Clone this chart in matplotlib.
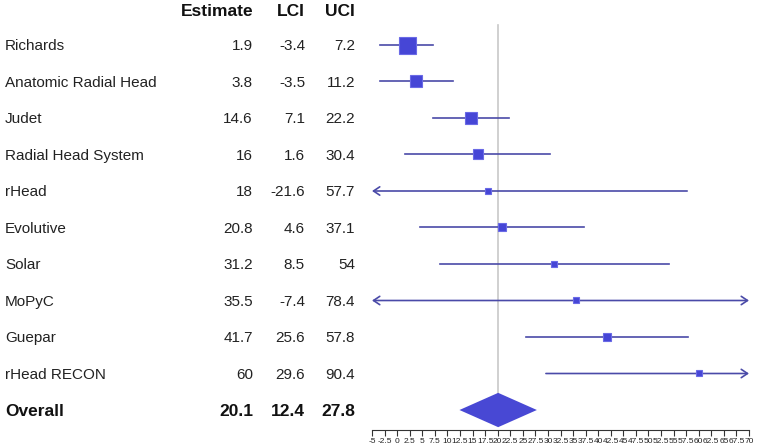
import matplotlib.pyplot as plt
import matplotlib.transforms as mtransforms
import numpy as np

plt.rcParams["font.family"] = ["Liberation Sans", "DejaVu Sans"]

studies = ["Richards", "Anatomic Radial Head", "Judet", "Radial Head System", "rHead",
           "Evolutive", "Solar", "MoPyC", "Guepar", "rHead RECON"]
estimate = [1.9, 3.8, 14.6, 16, 18, 20.8, 31.2, 35.5, 41.7, 60]
lci = [-3.4, -3.5, 7.1, 1.6, -21.6, 4.6, 8.5, -7.4, 25.6, 29.6]
uci = [7.2, 11.2, 22.2, 30.4, 57.7, 37.1, 54, 78.4, 57.8, 90.4]
# relative study weight
weights = [1.0, 0.70, 0.76, 0.53, 0.30, 0.45, 0.40, 0.30, 0.47, 0.35]

overall_label = "Overall"
overall = (20.1, 12.4, 27.8)
est_txt = ["1.9", "3.8", "14.6", "16", "18", "20.8", "31.2", "35.5", "41.7", "60"]
lci_txt = ["-3.4", "-3.5", "7.1", "1.6", "-21.6", "4.6", "8.5", "-7.4", "25.6", "29.6"]
uci_txt = ["7.2", "11.2", "22.2", "30.4", "57.7", "37.1", "54", "78.4", "57.8", "90.4"]
overall_txt = ["20.1", "12.4", "27.8"]
headers = ["Estimate", "LCI", "UCI"]
xticks = np.arange(-5, 70.1, 2.5)

W, H = 759, 448
xmin, xmax = -5, 70
top_px, step_px = 45, 36.5

fig = plt.figure(figsize=(W / 100, H / 100), dpi=100)
ax = fig.add_axes([372 / W, 0, (749 - 372) / W, 1])
ax.set_xlim(xmin, xmax)
ax.set_ylim((H - top_px) / step_px, -top_px / step_px)
ax.patch.set_alpha(0)

line_c = "#4a4aa8"
box_c = "#4646d6"
n = len(studies)
y_over = n

# reference line at the overall estimate
ax.plot([overall[0], overall[0]], [-0.55, y_over - 0.47], color="#c8c8c8", lw=1.2, zorder=1)

for i in range(n):
    lo, hi = max(lci[i], xmin), min(uci[i], xmax)
    left_cut, right_cut = lci[i] < xmin, uci[i] > xmax
    if left_cut and right_cut:
        style, a, b = "<->", (lo, i), (hi, i)
    elif left_cut:
        style, a, b = "->", (hi, i), (lo, i)
    elif right_cut:
        style, a, b = "->", (lo, i), (hi, i)
    else:
        style = None
    if style:
        ax.annotate("", xy=b, xytext=a, annotation_clip=False,
                    arrowprops=dict(arrowstyle=style + ",head_length=0.45,head_width=0.3",
                                    color=line_c, lw=1.2, shrinkA=0, shrinkB=0))
    else:
        ax.plot([lo, hi], [i, i], color=line_c, lw=1.2, zorder=2)
    ax.plot(estimate[i], i, marker="s", ms=17 * 0.72 * weights[i],
            mfc=box_c, mec="#6a6ae6", mew=0.8, zorder=3)

# overall diamond
e, l, u = overall
ax.fill([l, e, u, e], [y_over, y_over - 0.47, y_over, y_over + 0.47],
        color="#4848d4", lw=0, zorder=3)

# x axis
axis_y = (430 - top_px) / step_px
for s in ["top", "left", "right"]:
    ax.spines[s].set_visible(False)
ax.spines["bottom"].set_position(("data", axis_y))
ax.spines["bottom"].set_bounds(xmin, xmax)
ax.spines["bottom"].set_color("#333333")
ax.set_xticks(xticks)
ax.set_xticklabels([f"{t:g}" for t in xticks], fontsize=6, color="#222222")
ax.tick_params(axis="x", length=4.5, width=0.8, pad=1.5, color="#333333")
ax.set_yticks([])

# text columns
tr = mtransforms.blended_transform_factory(fig.transFigure, ax.transData)
fs, fsb = 11, 12.5
col_x = [253, 305, 355]
hy = -0.93
for label, x in zip(headers, col_x):
    fig.text(x / W, hy, label, transform=tr, ha="right", va="center",
             fontsize=fsb, fontweight="bold", color="#111111")
for i in range(n):
    fig.text(5 / W, i + 0.03, studies[i], transform=tr, ha="left", va="center",
             fontsize=fs, color="#222222")
    for txt, x in zip([est_txt[i], lci_txt[i], uci_txt[i]], col_x):
        fig.text(x / W, i + 0.03, txt, transform=tr, ha="right", va="center",
                 fontsize=fs, color="#222222")
fig.text(5 / W, y_over + 0.03, overall_label, transform=tr, ha="left", va="center",
         fontsize=fsb, fontweight="bold", color="#111111")
for txt, x in zip(overall_txt, col_x):
    fig.text(x / W, y_over + 0.03, txt, transform=tr, ha="right", va="center",
             fontsize=fsb, fontweight="bold", color="#111111")

fig.savefig("out.png", dpi=100)
